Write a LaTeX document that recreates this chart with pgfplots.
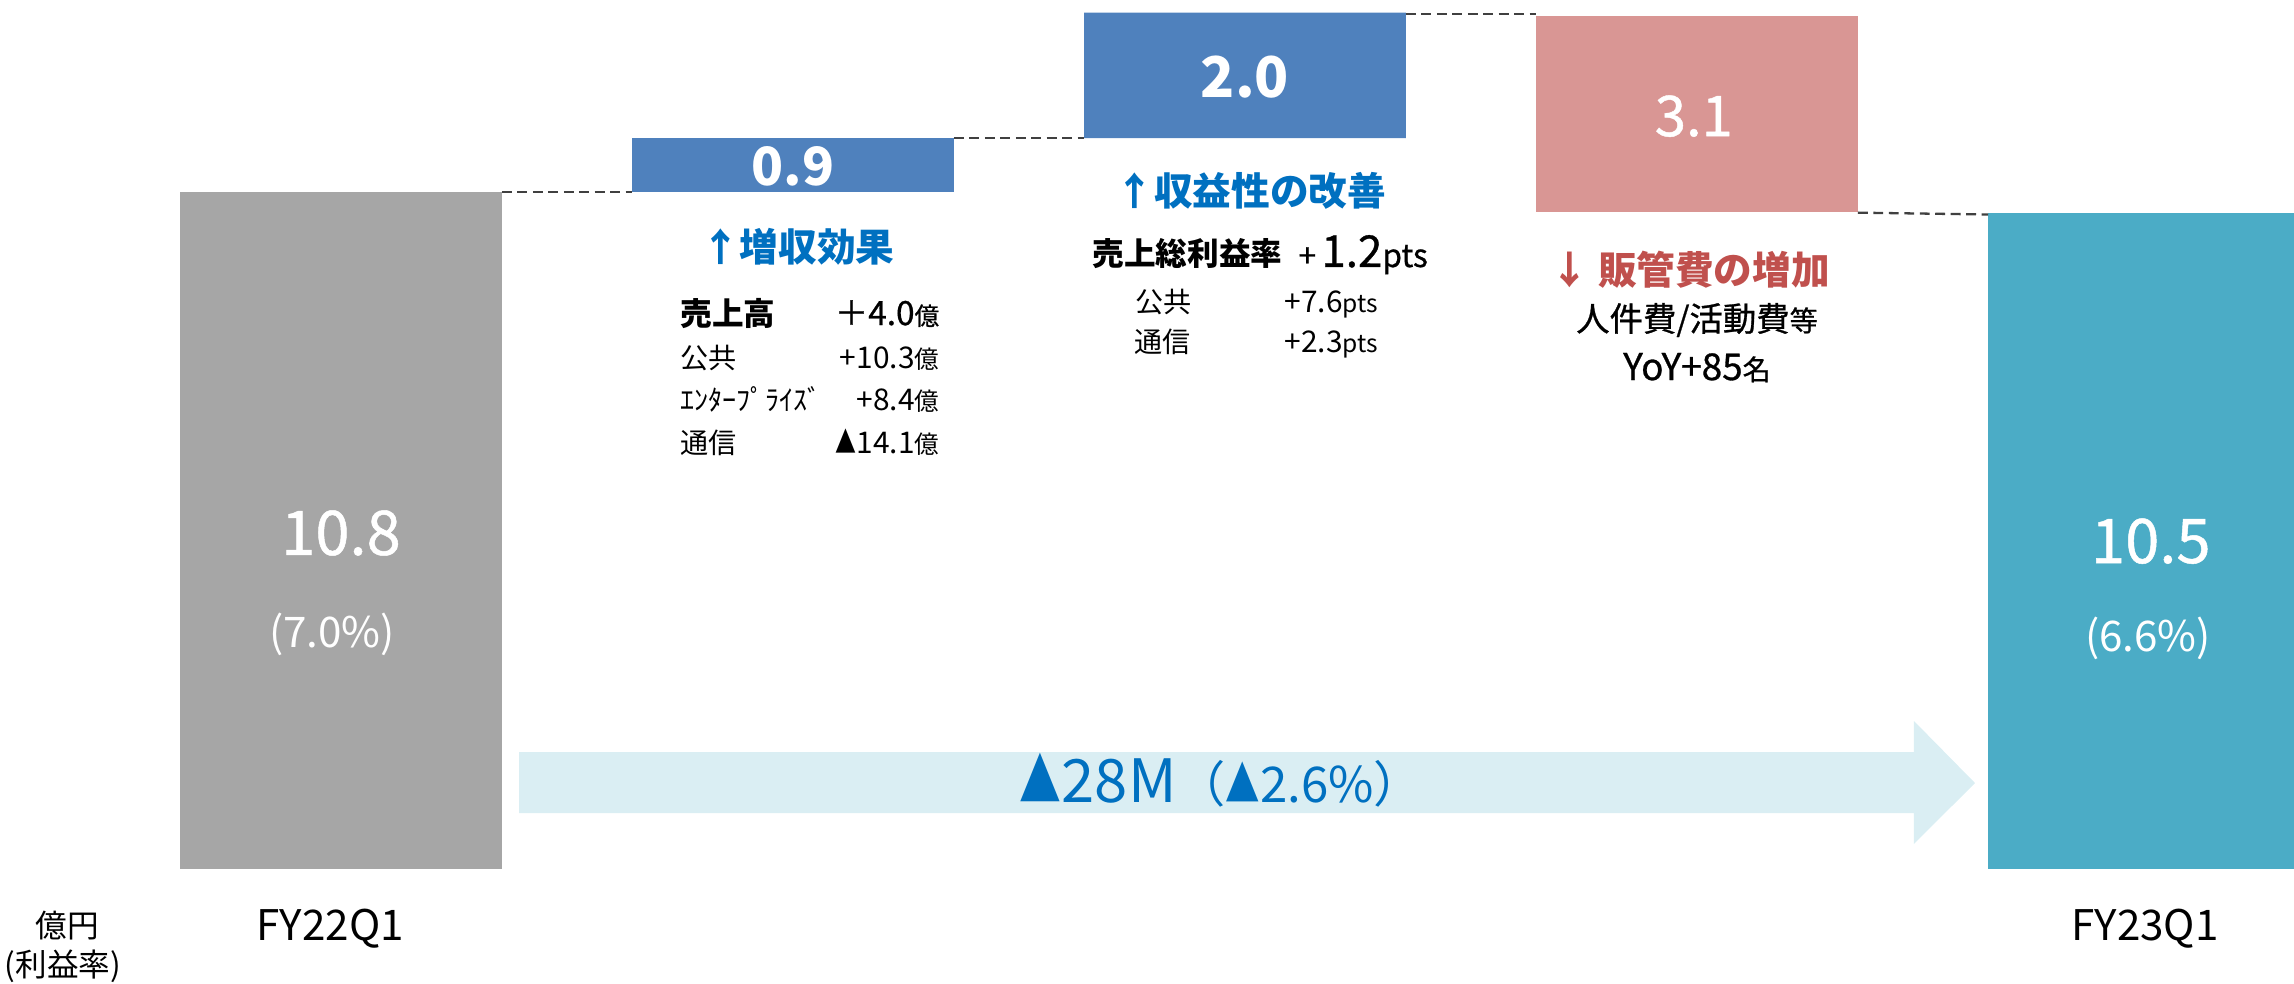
\documentclass[border=0pt]{standalone}
\usepackage{fontspec}
\setmainfont{Noto Sans CJK JP}
\newfontfamily\medfont{Noto Sans CJK JP}[FakeBold=0.8]
\usepackage{pgfplots}
\pgfplotsset{compat=1.18}
\definecolor{barGray}{HTML}{A6A6A6}
\definecolor{barBlue}{HTML}{4F81BD}
\definecolor{barRed}{HTML}{D99694}
\definecolor{barTeal}{HTML}{4BACC6}
\definecolor{arrowFill}{HTML}{DAEEF3}
\definecolor{txtBlue}{HTML}{0070C0}
\definecolor{txtRed}{HTML}{C0504D}
\definecolor{dashGray}{HTML}{404040}
\newcommand{\fs}[1]{\fontsize{#1}{#1}\selectfont}
\newcommand{\tri}{\scalebox{0.7}[1]{▲}}
\pgfplotsset{wf/.style={
  width=22.94cm, height=9.84cm, scale only axis,
  xmin=-0.7544, xmax=4.3208, ymin=-1.834, ymax=13.862,
  axis lines=none, xtick=\empty, ytick=\empty, clip=true,
}}

\begin{document}
\begin{tikzpicture}[every node/.append style={inner sep=0pt}]
% bars (floating, via an invisible base)
\begin{axis}[wf, ybar stacked, bar width=0.712]
\addplot[draw=none, fill=none] coordinates {(0,0) (1,10.8) (2,11.66) (3,10.48) (4,0)};
\addplot[draw=none, fill=barGray] coordinates {(0,10.8) (1,0) (2,0) (3,0) (4,0)};
\addplot[draw=none, fill=barBlue] coordinates {(0,0) (1,0.86) (2,2.0) (3,0) (4,0)};
\addplot[draw=none, fill=barRed] coordinates {(0,0) (1,0) (2,0) (3,3.12) (4,0)};
\addplot[draw=none, fill=barTeal] coordinates {(0,0) (1,0) (2,0) (3,0) (4,10.46)};
\end{axis}

% arrow, connectors and text
\begin{axis}[wf]
\addplot[fill=arrowFill, draw=none] coordinates {(0.394,1.866) (3.480,1.866) (3.480,2.361) (3.615,1.372) (3.480,0.399) (3.480,0.893) (0.394,0.893)} --cycle;
\addplot[dashGray, line width=0.65pt, dash pattern=on 2.8pt off 1.6pt] coordinates {(0.356,10.8) (0.644,10.8)};
\addplot[dashGray, line width=0.65pt, dash pattern=on 2.8pt off 1.6pt] coordinates {(1.356,11.66) (1.644,11.66)};
\addplot[dashGray, line width=0.65pt, dash pattern=on 2.8pt off 1.6pt] coordinates {(2.356,13.64) (2.644,13.64)};
\addplot[dashGray, line width=0.65pt, dash pattern=on 2.8pt off 1.6pt] coordinates {(3.356,10.47) (3.644,10.44)};

% values in bars
\node[text=white, font=\medfont\fs{17.5}] at (axis cs:0,5.36) {10.8};
\node[text=white, font=\fs{12}] at (axis cs:-0.02,3.75) {(7.0\%)};
\node[text=white, font=\medfont\fs{17.5}] at (axis cs:4.004,5.23) {10.5};
\node[text=white, font=\fs{12}] at (axis cs:3.998,3.685) {(6.6\%)};
\node[text=white, font=\fs{15}\bfseries] at (axis cs:1.0,11.21) {0.9};
\node[text=white, font=\fs{16}\bfseries] at (axis cs:2.0,12.63) {2.0};
\node[text=white, font=\medfont\fs{16}] at (axis cs:2.993,12.01) {3.1};

% revenue effect
\node[text=txtBlue, font=\fs{11}\bfseries] at (axis cs:1.011,9.92) {↑増収効果};
\node[anchor=base west, font=\fs{9}\bfseries] at (axis cs:0.75,8.677) {売上高};
\node[anchor=base east, font=\medfont\fs{9.5}] at (axis cs:1.325,8.677) {＋4.0{\fs{7}億}};
\node[anchor=base west, font=\fs{8}] at (axis cs:0.75,7.99) {公共};
\node[anchor=base east, font=\fs{8.5}] at (axis cs:1.325,7.99) {+10.3{\fs{7}億}};
\node[anchor=base west, font=\fs{8}] at (axis cs:0.75,7.32) {ｴﾝﾀｰﾌﾟﾗｲｽﾞ};
\node[anchor=base east, font=\fs{8.5}] at (axis cs:1.325,7.32) {+8.4{\fs{7}億}};
\node[anchor=base west, font=\fs{8}] at (axis cs:0.75,6.636) {通信};
\node[anchor=base east, font=\fs{8.5}] at (axis cs:1.325,6.636) {\tri14.1{\fs{7}億}};

% margin effect
\node[text=txtBlue, font=\fs{11}\bfseries] at (axis cs:2.013,10.815) {↑収益性の改善};
\node[anchor=base west, font=\fs{9}\bfseries] at (axis cs:1.661,9.62) {売上総利益率};
\node[anchor=base west, font=\medfont\fs{9}] at (axis cs:2.117,9.603) {+\,{\fs{12.5}1.2}pts};
\node[anchor=base west, font=\fs{8}] at (axis cs:1.757,8.885) {公共};
\node[anchor=base west, font=\fs{8.5}] at (axis cs:2.086,8.885) {+7.6{\fs{7}pts}};
\node[anchor=base west, font=\fs{8}] at (axis cs:1.754,8.247) {通信};
\node[anchor=base west, font=\fs{8.5}] at (axis cs:2.086,8.247) {+2.3{\fs{7}pts}};

% SG&A
\node[text=txtRed, font=\fs{11}\bfseries] at (axis cs:2.985,9.555) {↓ 販管費の増加};
\node[anchor=base, font=\medfont\fs{9.5}] at (axis cs:3.0,8.58) {人件費/活動費{\fs{8}等}};
\node[anchor=base, font=\medfont\fs{10.5}] at (axis cs:3.0,7.80) {YoY+85{\fs{8}名}};

% change arrow label
\node[anchor=base, text=txtBlue] at (axis cs:1.948,1.069) {{\fs{17}\tri28M}{\fs{14}（\tri2.6\%）}};

% category labels
\node[font=\fs{12}] at (axis cs:-0.024,-0.957) {FY22Q1};
\node[font=\fs{12}] at (axis cs:3.991,-0.957) {FY23Q1};
\node[font=\fs{9}] at (axis cs:-0.606,-0.909) {億円};
\node[font=\fs{9}] at (axis cs:-0.615,-1.547) {(利益率)};
\end{axis}
\pgfresetboundingbox
\path[use as bounding box] (current axis.south west) rectangle (current axis.north east);
\end{tikzpicture}
\end{document}
